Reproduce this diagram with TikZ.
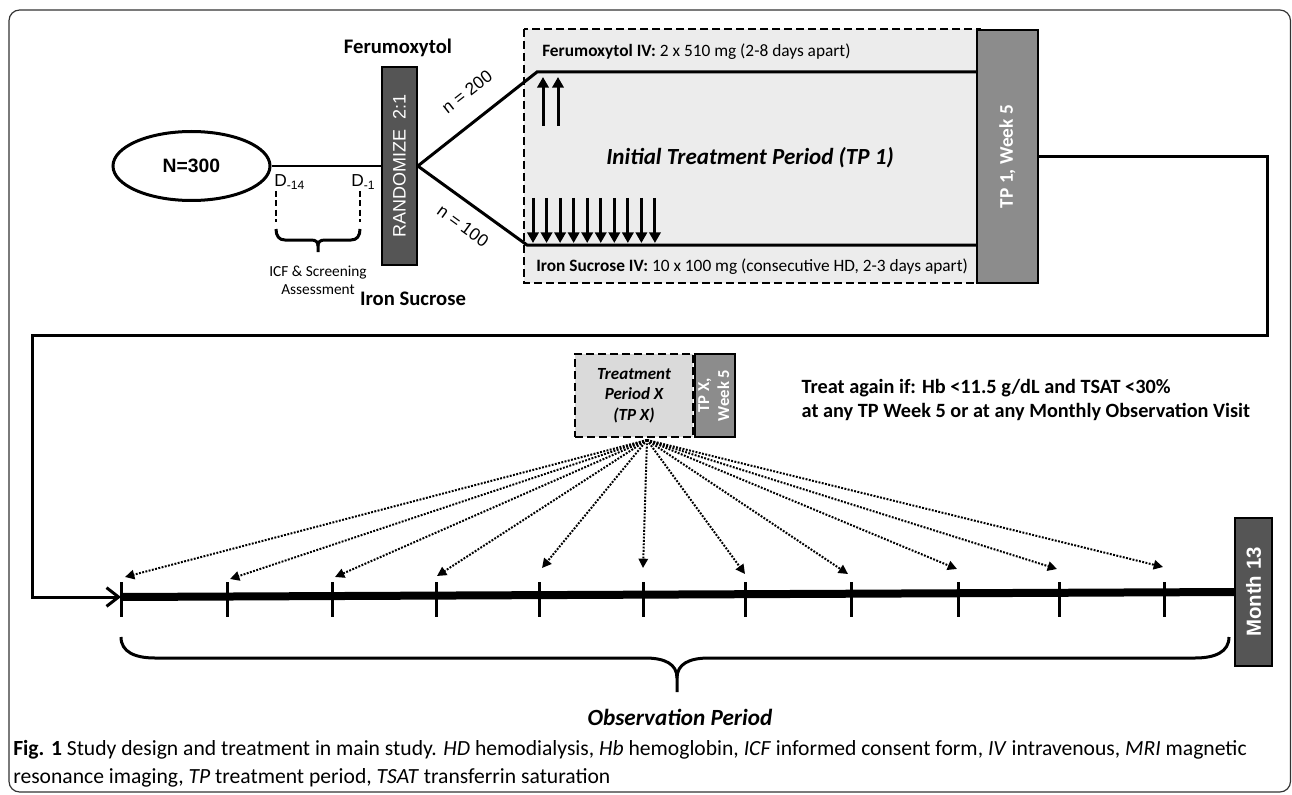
\documentclass[tikz,border=0pt]{standalone}
\usepackage{fontspec}
\setmainfont{Carlito}
\newfontfamily\arialfont{Liberation Sans}
\usepackage{graphicx}
\usetikzlibrary{arrows.meta,shapes.geometric}

\definecolor{darkbox}{HTML}{555555}
\definecolor{midbox}{HTML}{8C8C8C}
\definecolor{paleband}{HTML}{ECECEC}
\definecolor{palebox}{HTML}{DADADA}

\tikzset{
  heavy/.style={line width=2.25pt},
  darkbar/.style={draw=black, line width=1.2pt, fill=darkbox, text=white, inner sep=0pt},
  midbar/.style={draw=black, line width=1.2pt, fill=midbox, text=white, inner sep=0pt},
  dashbox/.style={draw=black, line width=2pt, dash pattern=on 6pt off 3pt, inner sep=0pt},
  dose/.style={line width=2.25pt, -{Triangle[length=8pt,width=8.5pt]}},
  visit/.style={line width=1.5pt, dash pattern=on 1.4pt off 1.1pt, -{Triangle[length=7pt,width=7pt]}},
  obstick/.style={line width=2.25pt},
  screen/.style={line width=1.5pt, dash pattern=on 4.5pt off 2.5pt},
}

\begin{document}
\begin{tikzpicture}[x=0.75pt,y=-0.75pt]
\useasboundingbox (0,0) rectangle (1292,795);
\draw[line width=0.9pt, rounded corners=8pt, black!80] (9,10) rectangle (1290.5,792);

% screening and randomisation
\node[ellipse, draw, line width=2.25pt, minimum width=117.75pt, minimum height=51.75pt,
  font=\arialfont\bfseries\fontsize{14.5}{17}\selectfont] (pop) at (191.5,166) {N=300};
\node[darkbar, minimum width=26.25pt, minimum height=148.5pt,
  font=\arialfont\fontsize{13.5}{16}\selectfont] (rand) at (399.5,166) {\rotatebox{90}{RANDOMIZE\ \ 2:1}};
\draw[line width=1.1pt] (pop.east) -- (rand.west);
\node[font=\bfseries\fontsize{15.5}{18}\selectfont] (ferlab) at (398,48) {Ferumoxytol};
\node[font=\bfseries\fontsize{15.5}{18}\selectfont] (isclab) at (413,299) {Iron Sucrose};

\node[anchor=base west, inner sep=0pt, font=\arialfont\fontsize{13}{15}\selectfont] (dstart) at (274,187) {D\textsubscript{-14}};
\node[anchor=base west, inner sep=0pt, font=\arialfont\fontsize{13}{15}\selectfont] (dend) at (351,187) {D\textsubscript{-1}};
\draw[screen] (276,191) -- (276,222);
\draw[screen] (360,191) -- (360,222);
\draw[heavy] (276,229) .. controls (276,236) and (279,240) .. (285,240) -- (311,240)
  .. controls (316,240) and (318,242) .. (318,246) -- (318,252);
\draw[heavy] (318,246) .. controls (318,242) and (320,240) .. (325,240) -- (351,240)
  .. controls (357,240) and (360,236) .. (360,229);
\node[align=center, font=\fontsize{11.5}{13.5}\selectfont] (icf) at (318,280) {ICF \& Screening\\Assessment};

% initial treatment period
\draw[dashbox, fill=paleband] (524,29) rectangle (980,283);
\node[midbar, minimum width=45.75pt, minimum height=189.75pt,
  font=\bfseries\fontsize{14.5}{17}\selectfont] (tp1) at (1007.5,156.5) {\rotatebox{90}{TP 1, Week 5}};

\coordinate (fbend) at (537,72);
\coordinate (ibend) at (527,245);
\draw[heavy] (rand.east) -- (fbend) -- (fbend -| tp1.west);
\draw[heavy] (rand.east) -- (ibend) -- (ibend -| tp1.west);
\node[rotate=38, font=\arialfont\fontsize{13}{15}\selectfont] (nfer) at (467,92) {n = 200};
\node[rotate=-36, font=\arialfont\fontsize{13}{15}\selectfont] (nisc) at (463,226) {n = 100};

\node[anchor=west, inner sep=0pt, font=\fontsize{13}{15}\selectfont] (ferdose) at (542,52)
  {\textbf{Ferumoxytol IV:} 2 x 510 mg (2-8 days apart)};
\node[anchor=west, inner sep=0pt, font=\fontsize{13}{15}\selectfont] (iscdose) at (536,267)
  {\textbf{Iron Sucrose IV:} 10 x 100 mg (consecutive HD, 2-3 days apart)};
\node[font=\bfseries\itshape\fontsize{17.3}{20}\selectfont] (itp) at (750,158) {Initial Treatment Period (TP 1)};

\foreach \x in {543,558}
  \draw[dose] (\x,126) -- (\x,77);
\foreach \k in {0,...,9}
  \draw[dose] ({533+13.55*\k},198) -- ({533+13.55*\k},243);

% observation period
\node[darkbar, minimum width=27.75pt, minimum height=111pt,
  font=\arialfont\bfseries\fontsize{15.3}{18}\selectfont] (m13) at (1253.5,592) {\rotatebox{90}{Month 13}};
\coordinate (turn) at (1267,335);
\coordinate (back) at (32,335);
\coordinate (obs0) at (121,597);
\draw[heavy, -{Straight Barb[length=9pt,width=14pt]}] (tp1.east) -- (tp1.east -| turn) -- (turn)
  -- (back) -- (back |- obs0) -- (obs0);
\draw[line width=6pt] (obs0) -- (m13.west);
\foreach \x in {121,227,332,436,539,643,745,851,958,1059,1164}
  \draw[obstick] (\x,582) -- (\x,617);

\node[dashbox, fill=palebox, minimum width=88.5pt, minimum height=62.25pt, align=center,
  font=\bfseries\itshape\fontsize{12.75}{15.4}\selectfont] (tpx) at (634,395.5) {Treatment\\Period X\\(TP X)};
\node[midbar, anchor=west, minimum width=30pt, minimum height=62.25pt,
  font=\bfseries\fontsize{12.5}{15}\selectfont] (tpxw) at (tpx.east)
  {\rotatebox{90}{\begin{tabular}{@{}c@{}}TP X,\\Week 5\end{tabular}}};

\coordinate (fan) at (647,440);
\foreach \x/\y in {125/577,230/579,335/577,437/576,542/568,643/568,745/574,848/574,957/569,1057/569,1163/567}
  \draw[visit] (fan) -- (\x,\y);

\node[anchor=west, align=left, font=\bfseries\fontsize{15.2}{18}\selectfont] (rule) at (797,400)
  {Treat again if: Hb <11.5 g/dL and TSAT <30\%\\at any TP Week 5 or at any Monthly Observation Visit};

\draw[heavy] (121,637) .. controls (121,652) and (135,658) .. (155,658) -- (645,658)
  .. controls (665,658) and (677,664) .. (677,678) -- (677,692);
\draw[heavy] (677,678) .. controls (677,664) and (689,658) .. (709,658) -- (1195,658)
  .. controls (1215,658) and (1229,652) .. (1229,637);
\node[font=\bfseries\itshape\fontsize{17.4}{20}\selectfont] (obs) at (680,717) {Observation Period};

% caption
\node[anchor=north west, align=left, inner sep=0pt, font=\fontsize{16.2}{21}\selectfont] (cap) at (13,740)
  {\textbf{Fig. 1} Study design and treatment in main study. \textit{HD} hemodialysis, \textit{Hb} hemoglobin, \textit{ICF} informed consent form, \textit{IV} intravenous, \textit{MRI} magnetic\\
   resonance imaging, \textit{TP} treatment period, \textit{TSAT} transferrin saturation};
\end{tikzpicture}
\end{document}
